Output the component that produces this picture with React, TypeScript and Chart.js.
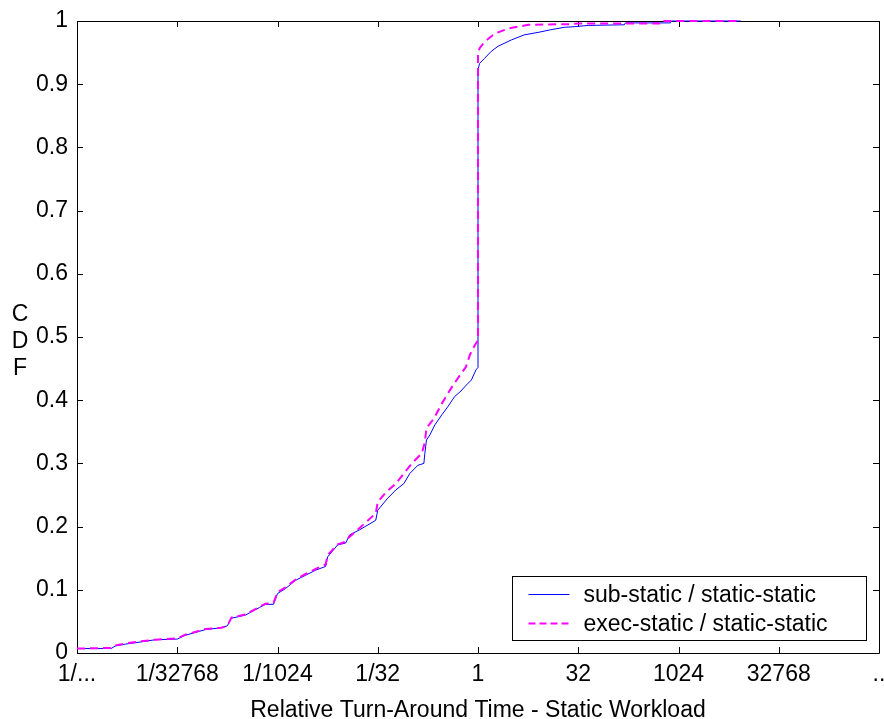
import React, { useEffect, useRef } from 'react';
import { Chart, registerables } from 'chart.js';

Chart.register(...registerables);

// x is stored as log2(relative turn-around time)
const xTickValues = [-20, -15, -10, -5, 0, 5, 10, 15, 20];
const xTickLabels = ['1/...', '1/32768', '1/1024', '1/32', '1', '32', '1024', '32768', '..'];
const yTickValues = [0, 0.1, 0.2, 0.3, 0.4, 0.5, 0.6, 0.7, 0.8, 0.9, 1];
const yTickLabels = ['0', '0.1', '0.2', '0.3', '0.4', '0.5', '0.6', '0.7', '0.8', '0.9', '1'];

const seriesNames = ['sub-static / static-static', 'exec-static / static-static'];
const xTitle = 'Relative Turn-Around Time - Static Workload';
const yTitleLetters = ['C', 'D', 'F'];

const subX = [
  -20, -18.3, -18.1, -17.6, -16.7, -16.1, -15.0, -14.6, -13.6, -12.8, -12.5, -12.3, -11.6, -10.9, -10.6, -10.2,
  -10.0, -9.6, -9.1, -8.6, -8.1, -7.6, -7.5, -7.0, -6.6, -6.4, -5.9, -5.1, -5.0, -4.5, -4.1, -3.7, -3.4, -3.0,
  -2.7, -2.65, -2.57, -2.4, -2.15, -1.8, -1.5, -1.16, -0.9, -0.58, -0.33, -0.1, 0, 0, 0.08, 0.33, 0.66, 1.0,
  1.66, 2.3, 3.0, 3.6, 4.3, 4.8, 5.5, 7.3, 7.35, 9.6, 9.65, 13.1,
];
const subY = [
  0.007, 0.007, 0.011, 0.014, 0.018, 0.021, 0.022, 0.028, 0.037, 0.040, 0.043, 0.055, 0.060, 0.072, 0.077, 0.077,
  0.094, 0.102, 0.115, 0.123, 0.131, 0.137, 0.152, 0.171, 0.174, 0.187, 0.195, 0.210, 0.226, 0.245, 0.258, 0.268, 0.284, 0.297,
  0.300, 0.316, 0.337, 0.345, 0.361, 0.377, 0.390, 0.406, 0.413, 0.424, 0.432, 0.448, 0.452, 0.923, 0.933, 0.941, 0.952, 0.960,
  0.970, 0.978, 0.982, 0.986, 0.990, 0.991, 0.993, 0.994, 0.997, 0.997, 1.0, 1.0,
];

const execX = [
  -20, -18.3, -18.1, -17.6, -16.7, -16.1, -15.0, -14.6, -13.6, -12.8, -12.5, -12.3, -11.6, -10.9, -10.6, -10.2,
  -10.0, -9.6, -9.1, -8.6, -8.1, -7.6, -7.5, -7.0, -6.6, -6.5, -6.0, -5.1, -5.0, -4.6, -4.1, -3.7, -3.3, -2.8,
  -2.65, -2.57, -2.2, -1.8, -1.4, -1.0, -0.6, -0.4, -0.16, 0, 0, 0.08, 0.33, 0.83, 1.5, 2.5, 4.6, 5.0, 9.1, 9.15, 13.1,
];
const execY = [
  0.007, 0.008, 0.012, 0.015, 0.019, 0.021, 0.023, 0.029, 0.038, 0.040, 0.043, 0.056, 0.061, 0.073, 0.078, 0.079,
  0.096, 0.104, 0.116, 0.125, 0.133, 0.140, 0.155, 0.172, 0.176, 0.181, 0.195, 0.221, 0.239, 0.254, 0.268, 0.284, 0.300, 0.316,
  0.334, 0.356, 0.371, 0.395, 0.416, 0.435, 0.453, 0.472, 0.487, 0.495, 0.949, 0.957, 0.967, 0.980, 0.988, 0.994, 0.995, 0.996, 0.996, 1.0, 1.0,
];

const FONT_FAMILY = '"Liberation Sans", Arial, Helvetica, sans-serif';
const FONT_SIZE = 23;
const BLUE = '#0000ff';
const MAGENTA = '#ff00ff';

const framePlugin = {
  id: 'matlabFrame',
  beforeDatasetsDraw(chart: any) {
    const { ctx, chartArea, scales } = chart;
    const { left, right, top, bottom } = chartArea;
    const xs = scales.x;
    const ys = scales.y;
    const tick = 6;
    ctx.save();
    ctx.strokeStyle = '#000';
    ctx.lineWidth = 1;
    ctx.beginPath();
    ctx.rect(Math.round(left) + 0.5, Math.round(top) + 0.5, Math.round(right - left), Math.round(bottom - top));
    ctx.stroke();
    ctx.beginPath();
    xTickValues.forEach((v) => {
      const px = Math.round(xs.getPixelForValue(v)) + 0.5;
      ctx.moveTo(px, bottom);
      ctx.lineTo(px, bottom - tick);
      ctx.moveTo(px, top);
      ctx.lineTo(px, top + tick);
    });
    yTickValues.forEach((v) => {
      const py = Math.round(ys.getPixelForValue(v)) + 0.5;
      ctx.moveTo(left, py);
      ctx.lineTo(left + tick, py);
      ctx.moveTo(right, py);
      ctx.lineTo(right - tick, py);
    });
    ctx.stroke();
    ctx.restore();
  },
  afterDraw(chart: any) {
    const { ctx, chartArea } = chart;
    const { right, top, bottom } = chartArea;
    ctx.save();
    // legend
    const lw = 354;
    const lh = 64;
    const lx = Math.round(right - 13 - lw) + 0.5;
    const ly = Math.round(bottom - 13 - lh) + 0.5;
    ctx.fillStyle = '#fff';
    ctx.fillRect(lx, ly, lw, lh);
    ctx.strokeStyle = '#000';
    ctx.lineWidth = 1;
    ctx.strokeRect(lx, ly, lw, lh);
    const rows = [ly + 18, ly + 47];
    const colors = [BLUE, MAGENTA];
    const widths = [1, 2];
    const dashes = [[], [7, 4]];
    ctx.font = `${FONT_SIZE}px ${FONT_FAMILY}`;
    ctx.textBaseline = 'middle';
    ctx.textAlign = 'left';
    seriesNames.forEach((name, i) => {
      ctx.beginPath();
      ctx.strokeStyle = colors[i];
      ctx.lineWidth = widths[i];
      ctx.setLineDash(dashes[i]);
      ctx.moveTo(lx + 16, rows[i]);
      ctx.lineTo(lx + 57, rows[i]);
      ctx.stroke();
      ctx.setLineDash([]);
      ctx.fillStyle = '#000';
      ctx.fillText(name, lx + 71, rows[i] + 1);
    });

    // y axis title, stacked letters
    ctx.textAlign = 'center';
    const midY = (top + bottom) / 2;
    yTitleLetters.forEach((ch, i) => {
      ctx.fillText(ch, 20, midY - 22 + i * 27);
    });
    ctx.restore();
  },
};

export default function App() {
  const canvasRef = useRef<HTMLCanvasElement | null>(null);

  useEffect(() => {
    const canvas = canvasRef.current;
    if (!canvas) return;
    const font = { family: FONT_FAMILY, size: FONT_SIZE };
    const chart = new Chart(canvas, {
      type: 'scatter',
      data: {
        datasets: [
          {
            label: seriesNames[0],
            data: subX.map((x, i) => ({ x, y: subY[i] })),
            showLine: true,
            borderColor: BLUE,
            backgroundColor: BLUE,
            borderWidth: 1,
            pointRadius: 0,
            tension: 0,
            order: 2,
            clip: 3,
          },
          {
            label: seriesNames[1],
            data: execX.map((x, i) => ({ x, y: execY[i] })),
            showLine: true,
            borderColor: MAGENTA,
            backgroundColor: MAGENTA,
            borderWidth: 2,
            borderDash: [8, 5],
            pointRadius: 0,
            tension: 0,
            order: 1,
            clip: 3,
          },
        ],
      },
      options: {
        animation: false,
        responsive: false,
        maintainAspectRatio: false,
        layout: { padding: { top: 21, right: 5, left: 0, bottom: 0 } },
        plugins: { legend: { display: false }, tooltip: { enabled: false } },
        scales: {
          x: {
            type: 'linear',
            min: -20,
            max: 20,
            afterBuildTicks: (s: any) => {
              s.ticks = xTickValues.map((v) => ({ value: v }));
            },
            afterFit: (s: any) => {
              s.height = 66;
              s.paddingLeft = 0;
              s.paddingRight = 0;
            },
            grid: { display: false, drawTicks: false },
            border: { display: false },
            ticks: {
              autoSkip: false,
              maxRotation: 0,
              padding: 8,
              color: '#000',
              font,
              callback: (v: any) => {
                const i = xTickValues.indexOf(Number(v));
                return i >= 0 ? xTickLabels[i] : '';
              },
            },
            title: { display: true, text: xTitle, color: '#000', font, padding: { top: 4, bottom: -5 } },
          },
          y: {
            type: 'linear',
            min: 0,
            max: 1,
            afterBuildTicks: (s: any) => {
              s.ticks = yTickValues.map((v) => ({ value: v }));
            },
            afterFit: (s: any) => {
              s.width = 77;
              s.paddingTop = 0;
              s.paddingBottom = 0;
            },
            grid: { display: false, drawTicks: false },
            border: { display: false },
            ticks: {
              autoSkip: false,
              padding: 9,
              color: '#000',
              font,
              callback: (v: any) => {
                const i = yTickValues.findIndex((t) => Math.abs(t - Number(v)) < 1e-9);
                return i >= 0 ? yTickLabels[i] : '';
              },
            },
          },
        },
      },
      plugins: [framePlugin],
    });
    return () => chart.destroy();
  }, []);

  return (
    <div style={{ position: 'fixed', left: 0, top: 0, width: 884, height: 719, background: '#fff' }}>
      <canvas ref={canvasRef} width={884} height={719} style={{ display: 'block', width: 884, height: 719 }} />
    </div>
  );
}
